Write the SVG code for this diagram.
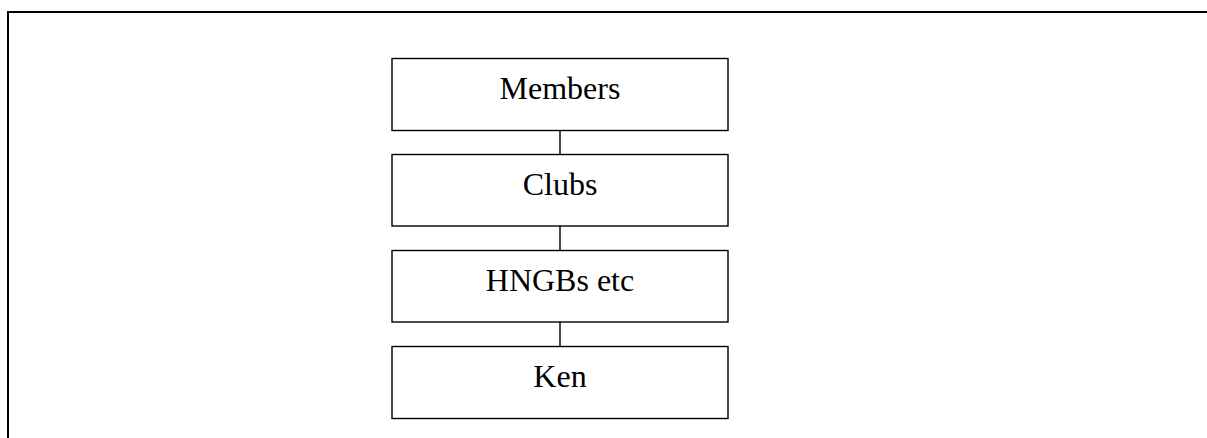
<svg xmlns="http://www.w3.org/2000/svg" width="1207" height="438" viewBox="0 0 1207 438">
<style>
.box{fill:#fff;stroke:#000;stroke-width:1.4}
.lbl{font-family:"Liberation Serif","Times New Roman",serif;font-size:32px;fill:#000;text-anchor:middle}
.con{stroke:#000;stroke-width:1.4;fill:none}
.frame{stroke:#000;stroke-width:2;fill:none}
</style>
<rect width="1207" height="438" fill="#fff"/>
<path class="frame" d="M8 438 V12 H1207"/>
<g id="connectors">
<line class="con" x1="560" y1="130.5" x2="560" y2="154.5"/>
<line class="con" x1="560" y1="226" x2="560" y2="250.5"/>
<line class="con" x1="560" y1="322" x2="560" y2="346.5"/>
</g>
<g id="members">
<rect class="box" x="392" y="58.5" width="336" height="72"/>
<text class="lbl" x="560" y="99.3">Members</text>
</g>
<g id="clubs">
<rect class="box" x="392" y="154.5" width="336" height="71.5"/>
<text class="lbl" x="560" y="195">Clubs</text>
</g>
<g id="hngbs">
<rect class="box" x="392" y="250.5" width="336" height="71.5"/>
<text class="lbl" x="560" y="291">HNGBs etc</text>
</g>
<g id="ken">
<rect class="box" x="392" y="346.5" width="336" height="72"/>
<text class="lbl" x="560" y="386.7">Ken</text>
</g>
</svg>
